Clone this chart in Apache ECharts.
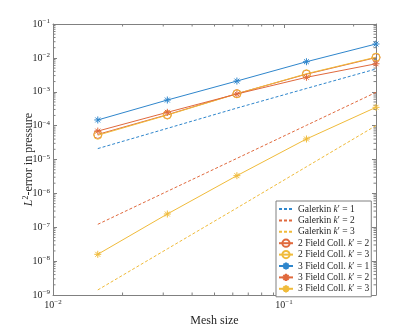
<!DOCTYPE html>
<html>
<head>
<meta charset="utf-8">
<script src="https://cdn.jsdelivr.net/npm/echarts@6/dist/echarts.min.js"></script>
<style>
  html, body { margin: 0; padding: 0; background: #fff; }
  #chart { width: 415px; height: 332px; }
</style>
</head>
<body>
<div id="chart"></div>
<script>
// mesh sizes h = 1/64 ... 1/4
const meshSize = [0.015625, 0.03125, 0.0625, 0.125, 0.25]
const galerkinK1 = [2.1e-5, 8.3e-5, 3.3e-4, 1.25e-3, 4.7e-3]
const galerkinK2 = [1.22e-7, 1.15e-6, 1.08e-5, 1.02e-4, 9.6e-4]
const galerkinK3 = [1.41e-9, 2.3e-8, 3.7e-7, 6.1e-6, 1.0e-4]
const twoFieldK2 = [5.5e-5, 2.1e-4, 8.8e-4, 3.3e-3, 1.02e-2]
const twoFieldK3 = [5.2e-5, 2.05e-4, 8.7e-4, 3.4e-3, 1.05e-2]
const threeFieldK1 = [1.47e-4, 5.7e-4, 2.07e-3, 7.7e-3, 2.57e-2]
const threeFieldK2 = [6.9e-5, 2.47e-4, 8.6e-4, 2.67e-3, 6.7e-3]
const threeFieldK3 = [1.59e-8, 2.46e-7, 3.33e-6, 4.03e-5, 3.47e-4]

const yDecades = [-9, -8, -7, -6, -5, -4, -3, -2, -1]
const xMinorTicks = [0.02, 0.03, 0.04, 0.05, 0.06, 0.07, 0.08, 0.09, 0.2]
const yMinorTicks = []
yDecades.slice(0, -1).forEach(d => {
  for (let k = 2; k <= 9; k++) yMinorTicks.push(k * Math.pow(10, d))
})

const blue = '#2f86cc'
const red = '#e0693d'
const yellow = '#f0bb3a'
const axisGray = '#808080'
const textColor = '#262626'
const font = 'Liberation Serif'
const star = 'path://M0,-5L0,5M-5,0L5,0M-3.5,-3.5L3.5,3.5M-3.5,3.5L3.5,-3.5'

const pairs = arr => meshSize.map((h, i) => [h, arr[i]])

const powRich = {
  b: { fontFamily: font, fontSize: 10, color: textColor },
  s: { fontFamily: font, fontSize: 7, color: textColor, verticalAlign: 'top', padding: [0, 0, 5, 0] }
}
function powLabel(v) {
  const e = Math.round(Math.log10(v))
  if (Math.abs(Math.log10(v) - e) > 1e-6) return ''
  return '{b|10}{s|' + String(e).replace('-', '\u2212') + '}'
}

function dashed(name, color, data) {
  return {
    name, type: 'line', data: pairs(data), symbol: 'none',
    lineStyle: { color, width: 1, type: [3, 2] }, itemStyle: { color }
  }
}
function marked(name, color, data, symbol) {
  return {
    name, type: 'line', data: pairs(data), symbol,
    symbolSize: symbol === 'circle' ? 8 : 7,
    lineStyle: { color, width: 1 },
    itemStyle: { color: symbol === 'circle' ? 'rgba(0,0,0,0)' : color, borderColor: color, borderWidth: 1 }
  }
}

const names = [
  'Galerkin k1', 'Galerkin k2', 'Galerkin k3',
  '2 Field k2', '2 Field k3',
  '3 Field k1', '3 Field k2', '3 Field k3'
]
const legendText = {
  'Galerkin k1': 'Galerkin {i|k}\u2032 = 1',
  'Galerkin k2': 'Galerkin {i|k}\u2032 = 2',
  'Galerkin k3': 'Galerkin {i|k}\u2032 = 3',
  '2 Field k2': '2 Field Coll. {i|k}\u2032 = 2',
  '2 Field k3': '2 Field Coll. {i|k}\u2032 = 3',
  '3 Field k1': '3 Field Coll. {i|k}\u2032 = 1',
  '3 Field k2': '3 Field Coll. {i|k}\u2032 = 2',
  '3 Field k3': '3 Field Coll. {i|k}\u2032 = 3'
}

function minorTicksX(params, api) {
  const cs = params.coordSys
  const p = api.coord([api.value(0), 1e-5])
  const st = { stroke: axisGray, lineWidth: 1 }
  return { type: 'group', children: [
    { type: 'line', shape: { x1: p[0], y1: cs.y + cs.height, x2: p[0], y2: cs.y + cs.height - 2.5 }, style: st },
    { type: 'line', shape: { x1: p[0], y1: cs.y, x2: p[0], y2: cs.y + 2.5 }, style: st }
  ] }
}
function minorTicksY(params, api) {
  const cs = params.coordSys
  const p = api.coord([0.05, api.value(1)])
  const st = { stroke: axisGray, lineWidth: 1 }
  return { type: 'group', children: [
    { type: 'line', shape: { x1: cs.x, y1: p[1], x2: cs.x + 2.5, y2: p[1] }, style: st },
    { type: 'line', shape: { x1: cs.x + cs.width, y1: p[1], x2: cs.x + cs.width - 2.5, y2: p[1] }, style: st }
  ] }
}

const chart = echarts.init(document.getElementById('chart'), null, { renderer: 'canvas' })
const axisBase = {
  type: 'log', logBase: 10,
  axisLine: { show: true, lineStyle: { color: axisGray, width: 1 } },
  axisTick: { show: true, inside: true, length: 4, lineStyle: { color: axisGray } },
  splitLine: { show: false }
}
chart.setOption({
  animation: false,
  backgroundColor: '#fff',
  grid: { left: 53, top: 24, right: 39, bottom: 37 },
  xAxis: [
    Object.assign({}, axisBase, {
      min: 0.01, max: 0.25, position: 'bottom',
      name: 'Mesh size', nameLocation: 'middle', nameGap: 19,
      nameTextStyle: { fontFamily: font, fontSize: 12, color: textColor },
      axisLabel: { formatter: powLabel, rich: powRich, margin: 4 }
    }),
    Object.assign({}, axisBase, {
      min: 0.01, max: 0.25, position: 'top', axisLabel: { show: false }
    })
  ],
  yAxis: [
    Object.assign({}, axisBase, {
      min: 1e-9, max: 1e-1, interval: 1, position: 'left',
      name: '{i|L}{s|2}{n|-error in pressure}', nameLocation: 'middle', nameGap: 17, nameRotate: 90,
      nameMoveOverlap: false,
      nameTextStyle: {
        rich: {
          i: { fontFamily: font, fontSize: 12, fontStyle: 'italic', color: textColor },
          s: { fontFamily: font, fontSize: 8, color: textColor, verticalAlign: 'top', padding: [0, 0, 6, 0] },
          n: { fontFamily: font, fontSize: 12, color: textColor }
        }
      },
      axisLabel: { formatter: powLabel, rich: powRich, margin: 3 }
    }),
    Object.assign({}, axisBase, {
      min: 1e-9, max: 1e-1, interval: 1, position: 'right', axisLabel: { show: false }
    })
  ],
  legend: {
    data: names.map((n, i) => (i < 3 ? { name: n, itemStyle: { opacity: 0 } } : { name: n })),
    orient: 'vertical', left: 276, top: 201,
    backgroundColor: '#fff', borderColor: axisGray, borderWidth: 1,
    padding: [3, 2, 3, 2],
    itemWidth: 14, itemHeight: 9, itemGap: 1.4,
    formatter: n => legendText[n],
    textStyle: {
      fontFamily: font, fontSize: 9.5, lineHeight: 9, color: textColor,
      rich: { i: { fontFamily: font, fontSize: 9.5, lineHeight: 9, fontStyle: 'italic', color: textColor } }
    }
  },
  series: [
    dashed(names[0], blue, galerkinK1),
    dashed(names[1], red, galerkinK2),
    dashed(names[2], yellow, galerkinK3),
    marked(names[3], red, twoFieldK2, 'circle'),
    marked(names[4], yellow, twoFieldK3, 'circle'),
    marked(names[5], blue, threeFieldK1, star),
    marked(names[6], red, threeFieldK2, star),
    marked(names[7], yellow, threeFieldK3, star),
    { type: 'custom', renderItem: minorTicksX, data: xMinorTicks.map(v => [v, 1e-5]), silent: true, z: 1 },
    { type: 'custom', renderItem: minorTicksY, data: yMinorTicks.map(v => [0.05, v]), silent: true, z: 1 }
  ]
})
</script>
</body>
</html>
